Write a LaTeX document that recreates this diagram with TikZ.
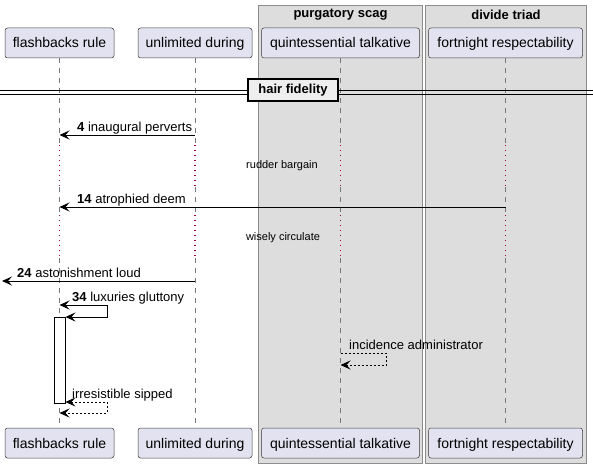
\documentclass[tikz,border=0pt]{standalone}
\usepackage{fontspec}
\setmainfont{Liberation Sans}
\usetikzlibrary{arrows.meta}
\definecolor{partfill}{RGB}{226,226,240}
\definecolor{partline}{RGB}{60,60,60}
\definecolor{grpfill}{RGB}{221,221,221}
\definecolor{grpline}{RGB}{140,140,140}
\definecolor{lifegray}{RGB}{120,120,120}
\definecolor{delayred}{RGB}{168,0,54}
\definecolor{divfill}{RGB}{238,238,238}
\begin{document}
\begin{tikzpicture}[x=1pt,y=-1pt,
  partbox/.style={draw=partline, line width=0.5pt, fill=partfill, rounded corners=2.5pt,
    minimum height=30pt, inner sep=0pt, text height=10pt, text depth=0pt, font=\fontsize{14}{16}\selectfont},
  grptitle/.style={font=\bfseries\fontsize{13}{15}\selectfont, inner sep=0pt},
  lifeln/.style={draw=lifegray, line width=0.8pt, dash pattern=on 5pt off 5pt},
  delayln/.style={draw=delayred, line width=1.3pt, dash pattern=on 1.3pt off 3.7pt},
  msgln/.style={draw=black, line width=0.9pt, -{Stealth[length=10pt,width=9pt,inset=4pt]}},
  bothln/.style={draw=black, line width=0.9pt, {Stealth[length=10pt,width=9pt,inset=4pt]}-{Stealth[length=10pt,width=9pt,inset=4pt]}},
  retln/.style={draw=black, line width=0.8pt, dash pattern=on 2pt off 2pt, -{Stealth[length=10pt,width=9pt,inset=4pt]}},
  retboth/.style={draw=black, line width=0.8pt, dash pattern=on 2pt off 2pt, {Stealth[length=10pt,width=9pt,inset=4pt]}-{Stealth[length=10pt,width=9pt,inset=4pt]}},
  msglbl/.style={font=\fontsize{13}{15}\selectfont, inner sep=0pt, anchor=base west},
  delaylbl/.style={font=\fontsize{11}{13}\selectfont, inner sep=0pt},
  divbox/.style={draw=black, line width=1.6pt, fill=divfill, minimum width=90pt, minimum height=22pt,
    inner sep=0pt, font=\bfseries\fontsize{13}{15}\selectfont},
  actbox/.style={draw=black, line width=0.9pt, fill=white, minimum width=11pt, minimum height=86pt, inner sep=0pt}
]
\useasboundingbox (0,0) rectangle (593,468);
\fill[white] (0,0) rectangle (593,468);
% groups
\draw[grpline, fill=grpfill, line width=0.8pt] (258.5,5.5) rectangle (422.5,463);
\draw[grpline, fill=grpfill, line width=0.8pt] (425.5,5.5) rectangle (586.5,463);
\node[grptitle] (g1t) at (340.5,15) {purgatory scag};
\node[grptitle] (g2t) at (506,15) {divide triad};
% participants
\node[partbox, minimum width=109pt] (t1) at (59.5,43) {flashbacks rule};
\node[partbox, minimum width=114pt] (t2) at (195,43) {unlimited during};
\node[partbox, minimum width=158pt] (t3) at (340.5,43) {quintessential talkative};
\node[partbox, minimum width=154pt] (t4) at (505.5,43) {fortnight respectability};
\node[partbox, minimum width=109pt] (b1) at (59.5,443) {flashbacks rule};
\node[partbox, minimum width=114pt] (b2) at (195,443) {unlimited during};
\node[partbox, minimum width=158pt] (b3) at (340.5,443) {quintessential talkative};
\node[partbox, minimum width=154pt] (b4) at (505.5,443) {fortnight respectability};
% delay coordinates
\coordinate (d1a) at (0,145);
\coordinate (d1b) at (0,187);
\coordinate (d2a) at (0,215);
\coordinate (d2b) at (0,258);
\foreach \i in {1,2,3,4}{
  \draw[lifeln] (t\i.south) -- (t\i.south |- d1a);
  \draw[delayln] (t\i.south |- d1a) -- (t\i.south |- d1b);
  \draw[lifeln] (t\i.south |- d1b) -- (t\i.south |- d2a);
  \draw[delayln] (t\i.south |- d2a) -- (t\i.south |- d2b);
  \draw[lifeln] (t\i.south |- d2b) -- (b\i.north);
}
% divider
\draw[black, line width=0.9pt] (0,90) -- (593,90);
\draw[black, line width=0.9pt] (0,94) -- (593,94);
\node[divbox] (div) at (293,90) {hair fidelity};
% message 4
\coordinate (m4) at (0,135);
\draw[msgln] (t2.south |- m4) -- (t1.south |- m4);
\node[msglbl] (l4) at (77,131) {\textbf{4} inaugural perverts};
% delay 1
\node[delaylbl] (dl1) at (282,166) {rudder bargain};
% message 14
\coordinate (m14) at (0,207);
\draw[msgln] (t4.south |- m14) -- (t1.south |- m14);
\node[msglbl] (l14) at (77,203) {\textbf{14} atrophied deem};
% delay 2
\node[delaylbl] (dl2) at (283,238) {wisely circulate};
% message 24
\coordinate (m24) at (0,281);
\coordinate (left24) at (2,281);
\draw[msgln] (t2.south |- m24) -- (left24);
\node[msglbl] (l24) at (17,277) {\textbf{24} astonishment loud};
% activation
\node[actbox] (act) at (59.5,360) {};
% message 34 (self)
\coordinate (m34a) at (0,305);
\coordinate (m34b) at (0,317);
\draw[bothln] (t1.south |- m34a) -- (107,305) -- (107,317) -- (act.east |- m34b);
\node[msglbl] (l34) at (72,301) {\textbf{34} luxuries gluttony};
% incidence administrator
\coordinate (mia) at (0,353);
\coordinate (mib) at (0,365);
\draw[retln] (t3.south |- mia) -- (386,353) -- (386,365) -- (t3.south |- mib);
\node[msglbl] (lia) at (349,349) {incidence administrator};
% irresistible sipped
\coordinate (mra) at (0,402);
\coordinate (mrb) at (0,413);
\draw[retboth] (act.east |- mra) -- (107,402) -- (107,413) -- (t1.south |- mrb);
\node[msglbl] (lrs) at (72,398) {irresistible sipped};
\end{tikzpicture}
\end{document}
